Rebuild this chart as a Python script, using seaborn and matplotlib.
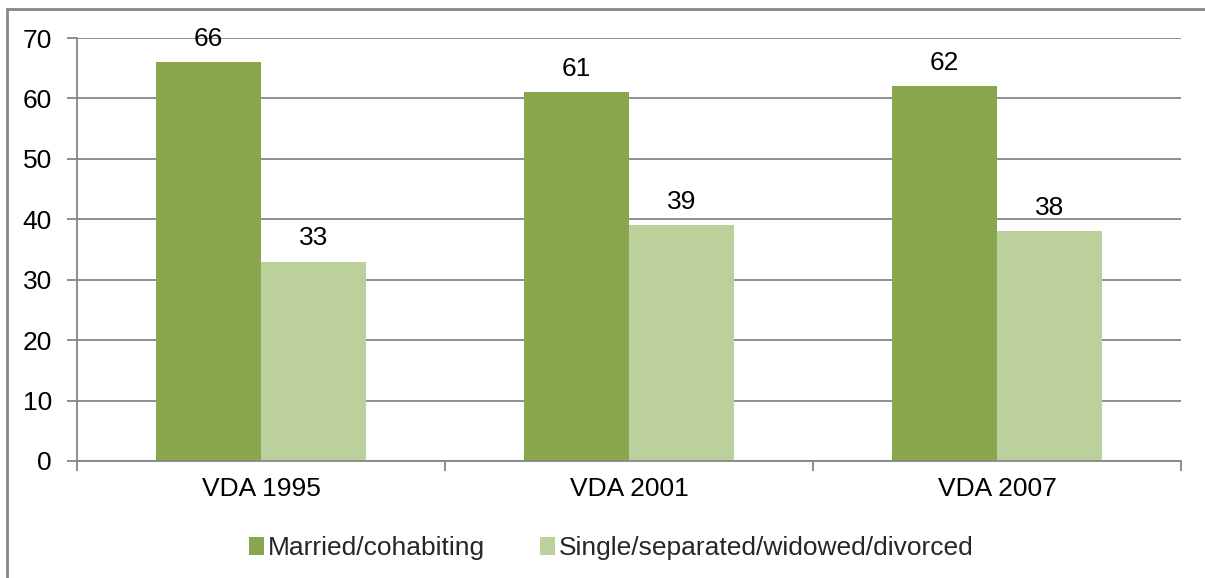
import matplotlib
matplotlib.use("Agg")
import matplotlib.pyplot as plt
from matplotlib.patches import Rectangle, Patch
import seaborn as sns
import pandas as pd

# Survey waves and shares (%) by marital status
waves = ["VDA 1995", "VDA 2001", "VDA 2007"]
married = [66, 61, 62]
single = [33, 39, 38]
series_names = ["Married/cohabiting", "Single/separated/widowed/divorced"]
y_ticks = [0, 10, 20, 30, 40, 50, 60, 70]

colors = ["#89A54E", "#BBD09A"]
grid_gray = "#868686"

df = pd.DataFrame({
    "wave": waves * 2,
    "value": married + single,
    "status": [series_names[0]] * 3 + [series_names[1]] * 3,
})

sns.set_theme(style="white")
plt.rcParams["font.family"] = ["Liberation Sans", "DejaVu Sans"]

fig = plt.figure(figsize=(12.05, 5.78), dpi=100)
ax = fig.add_axes([77 / 1205, 1 - 461 / 578, (1181 - 77) / 1205, (461 - 38) / 578])

sns.barplot(data=df, x="wave", y="value", hue="status", order=waves,
            hue_order=series_names, palette=colors, width=0.57,
            saturation=1, edgecolor="none", linewidth=0, ax=ax, legend=False)

for cont in ax.containers:
    ax.bar_label(cont, fmt="%d", padding=8, fontsize=19, color="black")

ax.set_ylim(0, 70)
ax.set_xlim(-0.5, 2.5)
ax.set_yticks(y_ticks)
ax.set_yticklabels([str(t) for t in y_ticks], fontsize=19, color="black")
ax.yaxis.grid(True, color=grid_gray, linewidth=1.3)
ax.set_axisbelow(True)

# category boundaries carry the tick marks; names sit at the centers
ax.set_xticks([-0.5, 0.5, 1.5, 2.5])
ax.set_xticklabels([])
ax.set_xticks([0, 1, 2], minor=True)
ax.set_xticklabels(waves, minor=True, fontsize=19, color="black")
ax.tick_params(axis="x", which="minor", length=0, pad=11.5)
ax.tick_params(axis="x", which="major", direction="out", length=7,
               width=1.3, color=grid_gray, bottom=True)
ax.tick_params(axis="y", direction="out", length=7, width=1.3,
               color=grid_gray, left=True, pad=11)
ax.set_xlabel("")
ax.set_ylabel("")

for side in ["top", "right"]:
    ax.spines[side].set_visible(False)
for side in ["left", "bottom"]:
    ax.spines[side].set_color(grid_gray)
    ax.spines[side].set_linewidth(1.3)

handles = [Patch(facecolor=c, edgecolor="none") for c in colors]
fig.legend(handles, series_names, loc="center", bbox_to_anchor=(0.5075, 1 - 548 / 578),
           ncol=2, frameon=False, fontsize=19, handlelength=0.55, handleheight=0.7,
           handletextpad=0.15, columnspacing=2.1)

# outer chart frame
fig.patches.append(Rectangle((7 / 1205, -0.1), 1.2, 1 - 9 / 578 + 0.1,
                             transform=fig.transFigure, fill=False,
                             edgecolor=grid_gray, linewidth=2))

fig.savefig("out.png", dpi=100)
